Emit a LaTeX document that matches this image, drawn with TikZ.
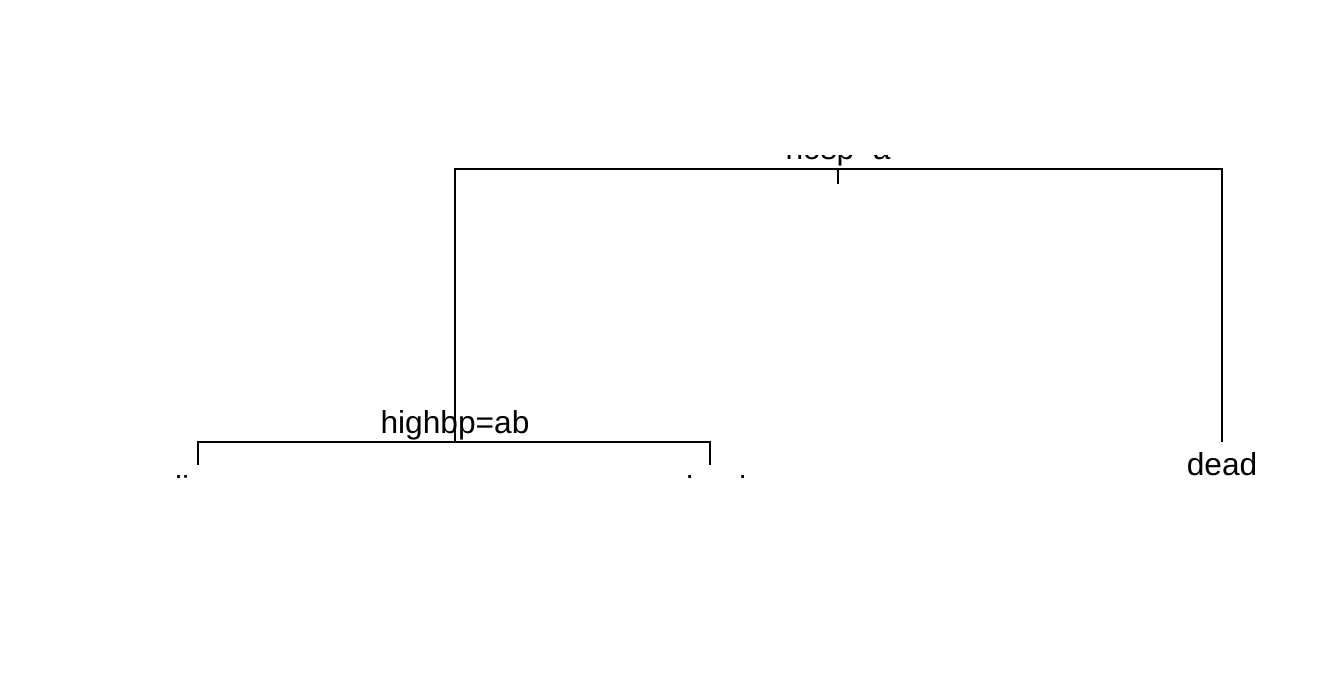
\documentclass[tikz,border=0pt]{standalone}
\usepackage{fontspec}
\setmainfont{Liberation Sans}
\begin{document}
\begin{tikzpicture}[x=1pt,y=-1pt,line width=1.8pt,line join=miter,
  lbl/.style={font=\fontsize{31.7}{38}\selectfont, inner sep=0pt, outer sep=0pt, anchor=base}]
\useasboundingbox (0,0) rectangle (1344,672);
% tree points
\coordinate (rootL) at (455,169);
\coordinate (rootR) at (1222,169);
\coordinate (root) at (838,169);
\coordinate (rootTick) at (838,184);
\coordinate (n2) at (455,442);
\coordinate (n2L) at (198,442);
\coordinate (n2R) at (710,442);
\coordinate (leafA) at (198,465);
\coordinate (leafB) at (710,465);
\coordinate (leafC) at (1222,442);
% branches
\draw (n2) -- (rootL) -- (rootR) -- (leafC);
\draw (root) -- (rootTick);
\draw (leafA) -- (n2L) -- (n2R) -- (leafB);
% labels (clipped to plot region)
\begin{scope}
\clip (0,155) rectangle (1344,477);
\node[lbl] (split1) at (838,159) {hosp=a};
\node[lbl] (split2) at (455,433) {highbp=ab};
\node[lbl] (dead1) at (1222,475) {dead};
\node[lbl] (alive1) at (190,498) {alive};
\node[lbl] (dead2) at (711,498) {dead};
\end{scope}
\end{tikzpicture}
\end{document}
